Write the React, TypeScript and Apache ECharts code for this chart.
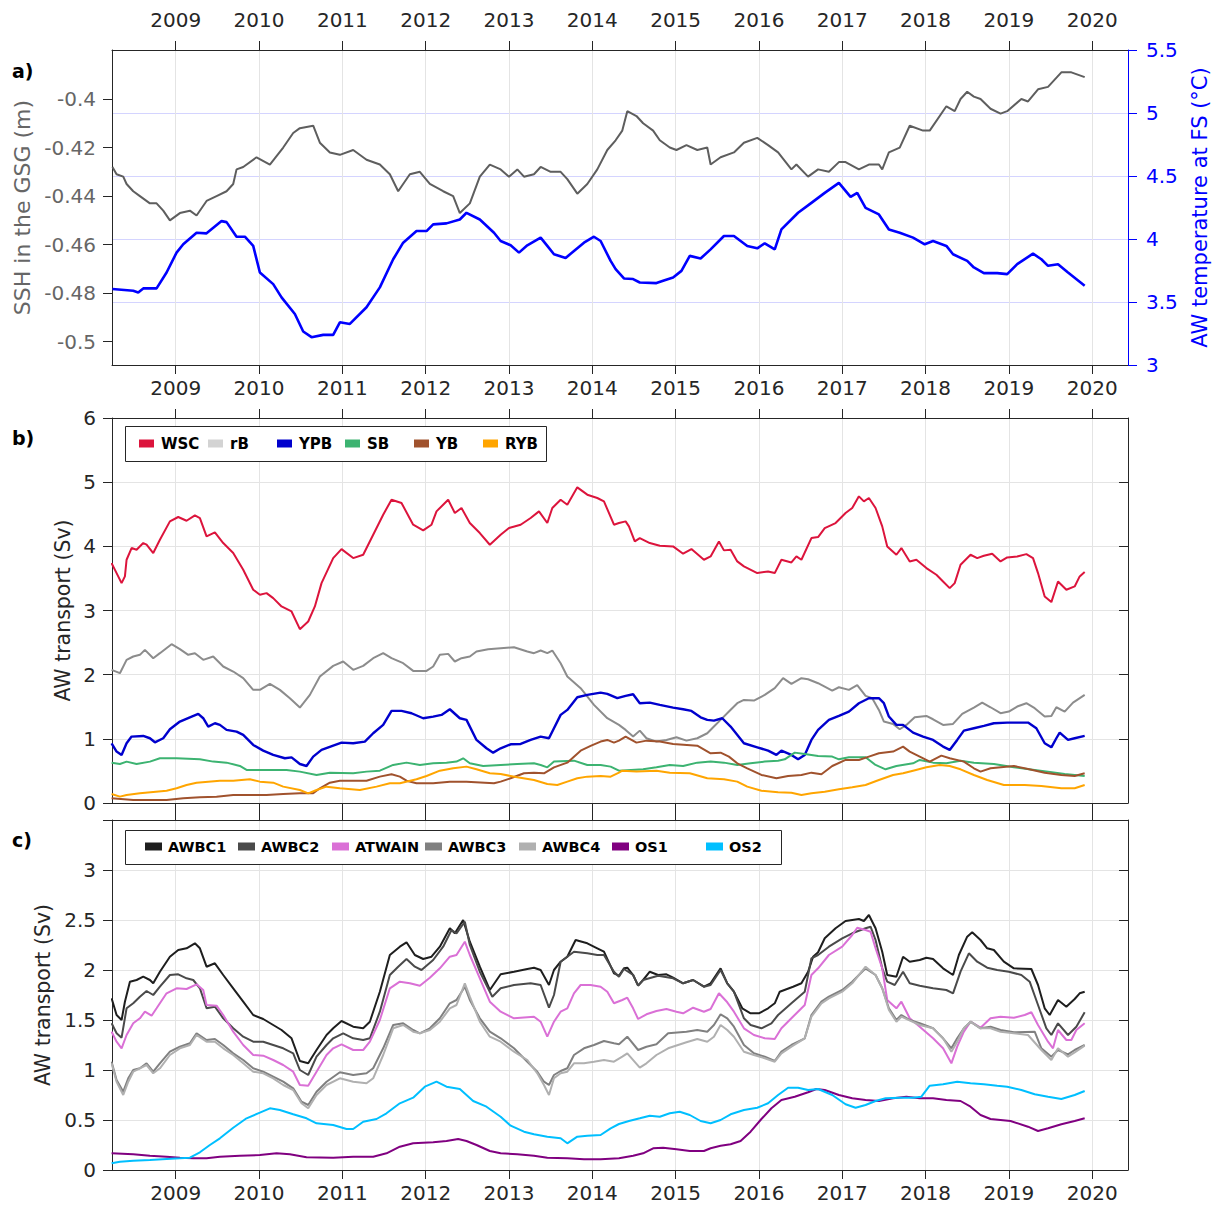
import React, { useEffect, useRef } from "react";
import * as echarts from "echarts";

const FONT = '"DejaVu Sans", sans-serif';
const AXIS = "#262626";
const GRID = "#e4e4e4";

const X_MIN = 2008.235;
const X_MAX = 2020.43;
const YEAR_TICKS = [2009, 2010, 2011, 2012, 2013, 2014, 2015, 2016, 2017, 2018, 2019, 2020];
const SSH_TICKS = [-0.5, -0.48, -0.46, -0.44, -0.42, -0.4];

// ---- panel a ----
const SSH: [number, number][] = [
  [2008.24, -0.428], [2008.29, -0.431], [2008.37, -0.432], [2008.41, -0.435], [2008.49, -0.438], [2008.57, -0.44],
  [2008.69, -0.443], [2008.77, -0.443], [2008.85, -0.446], [2008.93, -0.45], [2009.05, -0.447], [2009.17, -0.446],
  [2009.25, -0.448], [2009.37, -0.442], [2009.49, -0.44], [2009.61, -0.438], [2009.69, -0.435], [2009.73, -0.429],
  [2009.81, -0.428], [2009.97, -0.424], [2010.13, -0.427], [2010.29, -0.42], [2010.41, -0.414], [2010.49, -0.412],
  [2010.65, -0.411], [2010.73, -0.418], [2010.85, -0.422], [2010.97, -0.423], [2011.13, -0.421], [2011.29, -0.425],
  [2011.45, -0.427], [2011.57, -0.431], [2011.67, -0.438], [2011.81, -0.431], [2011.93, -0.43], [2012.05, -0.435],
  [2012.21, -0.438], [2012.33, -0.44], [2012.41, -0.447], [2012.53, -0.443], [2012.65, -0.432], [2012.77, -0.427],
  [2012.9, -0.429], [2013.0, -0.432], [2013.1, -0.429], [2013.18, -0.432], [2013.3, -0.431], [2013.38, -0.428],
  [2013.5, -0.43], [2013.62, -0.43], [2013.7, -0.433], [2013.82, -0.439], [2013.94, -0.435], [2014.06, -0.429],
  [2014.18, -0.421], [2014.28, -0.417], [2014.36, -0.413], [2014.42, -0.405], [2014.53, -0.407], [2014.61, -0.41],
  [2014.73, -0.413], [2014.81, -0.417], [2014.93, -0.42], [2015.01, -0.421], [2015.13, -0.419], [2015.26, -0.421],
  [2015.38, -0.42], [2015.42, -0.427], [2015.54, -0.424], [2015.7, -0.422], [2015.82, -0.418], [2015.98, -0.416],
  [2016.11, -0.419], [2016.23, -0.422], [2016.39, -0.429], [2016.45, -0.427], [2016.59, -0.432], [2016.71, -0.429],
  [2016.84, -0.43], [2016.96, -0.426], [2017.04, -0.426], [2017.2, -0.429], [2017.32, -0.427], [2017.44, -0.427],
  [2017.48, -0.429], [2017.56, -0.422], [2017.69, -0.42], [2017.81, -0.411], [2017.97, -0.413], [2018.05, -0.413],
  [2018.25, -0.403], [2018.35, -0.405], [2018.42, -0.4], [2018.5, -0.397], [2018.58, -0.399], [2018.66, -0.4],
  [2018.78, -0.404], [2018.9, -0.406], [2018.98, -0.405], [2019.15, -0.4], [2019.23, -0.401], [2019.35, -0.396],
  [2019.47, -0.395], [2019.63, -0.389], [2019.75, -0.389], [2019.91, -0.391],
];

const TEMP: [number, number][] = [
  [2008.24, 3.603], [2008.49, 3.589], [2008.55, 3.576], [2008.61, 3.608], [2008.77, 3.608], [2008.89, 3.734],
  [2009.01, 3.892], [2009.09, 3.958], [2009.25, 4.05], [2009.37, 4.045], [2009.55, 4.142], [2009.61, 4.134],
  [2009.73, 4.018], [2009.83, 4.018], [2009.93, 3.945], [2010.01, 3.734], [2010.17, 3.642], [2010.27, 3.537],
  [2010.43, 3.405], [2010.53, 3.266], [2010.63, 3.221], [2010.77, 3.239], [2010.89, 3.239], [2010.97, 3.339],
  [2011.09, 3.326], [2011.29, 3.458], [2011.45, 3.616], [2011.61, 3.839], [2011.73, 3.971], [2011.89, 4.063],
  [2012.01, 4.063], [2012.09, 4.116], [2012.25, 4.124], [2012.41, 4.155], [2012.49, 4.208], [2012.65, 4.155],
  [2012.82, 4.05], [2012.9, 3.984], [2013.02, 3.95], [2013.12, 3.892], [2013.22, 3.95], [2013.38, 4.011],
  [2013.46, 3.945], [2013.54, 3.879], [2013.68, 3.85], [2013.78, 3.905], [2013.9, 3.971], [2014.02, 4.018],
  [2014.1, 3.984], [2014.22, 3.826], [2014.28, 3.761], [2014.38, 3.687], [2014.49, 3.682], [2014.57, 3.655],
  [2014.77, 3.65], [2014.85, 3.668], [2014.97, 3.695], [2015.07, 3.747], [2015.17, 3.866], [2015.3, 3.845],
  [2015.42, 3.918], [2015.58, 4.024], [2015.7, 4.024], [2015.86, 3.945], [2015.98, 3.926], [2016.07, 3.966],
  [2016.19, 3.918], [2016.27, 4.076], [2016.47, 4.208], [2016.63, 4.287], [2016.79, 4.366], [2016.96, 4.445],
  [2017.1, 4.334], [2017.18, 4.366], [2017.28, 4.247], [2017.44, 4.195], [2017.56, 4.076], [2017.69, 4.05],
  [2017.85, 4.011], [2017.99, 3.958], [2018.09, 3.984], [2018.25, 3.945], [2018.33, 3.879], [2018.5, 3.826],
  [2018.58, 3.774], [2018.7, 3.729], [2018.86, 3.729], [2018.98, 3.721], [2019.1, 3.8], [2019.29, 3.884],
  [2019.39, 3.839], [2019.47, 3.787], [2019.59, 3.8], [2019.71, 3.734], [2019.91, 3.629],
];

// ---- panel b ----
const WSC: [number, number][] = [
  [2008.23, 3.739], [2008.29, 3.583], [2008.35, 3.427], [2008.39, 3.531], [2008.41, 3.791], [2008.47, 3.973],
  [2008.53, 3.947], [2008.61, 4.051], [2008.65, 4.025], [2008.73, 3.895], [2008.81, 4.103], [2008.93, 4.389],
  [2009.03, 4.457], [2009.13, 4.399], [2009.23, 4.483], [2009.29, 4.441], [2009.37, 4.155], [2009.47, 4.217],
  [2009.57, 4.051], [2009.69, 3.895], [2009.81, 3.635], [2009.93, 3.323], [2010.01, 3.245], [2010.09, 3.271],
  [2010.17, 3.193], [2010.27, 3.063], [2010.39, 2.985], [2010.49, 2.709], [2010.59, 2.829], [2010.67, 3.063],
  [2010.75, 3.427], [2010.89, 3.817], [2010.99, 3.957], [2011.13, 3.817], [2011.25, 3.869], [2011.37, 4.181],
  [2011.49, 4.493], [2011.59, 4.727], [2011.71, 4.675], [2011.85, 4.337], [2011.97, 4.249], [2012.07, 4.337],
  [2012.13, 4.545], [2012.27, 4.727], [2012.35, 4.519], [2012.43, 4.597], [2012.53, 4.363], [2012.65, 4.207],
  [2012.77, 4.025], [2012.9, 4.181], [2013.0, 4.285], [2013.14, 4.337], [2013.26, 4.441], [2013.36, 4.545],
  [2013.46, 4.363], [2013.52, 4.597], [2013.62, 4.727], [2013.7, 4.649], [2013.82, 4.919], [2013.94, 4.805],
  [2014.06, 4.753], [2014.14, 4.701], [2014.26, 4.337], [2014.32, 4.363], [2014.4, 4.389], [2014.44, 4.311],
  [2014.51, 4.077], [2014.57, 4.129], [2014.69, 4.051], [2014.81, 4.009], [2014.97, 3.999], [2015.09, 3.885],
  [2015.19, 3.957], [2015.34, 3.791], [2015.42, 3.843], [2015.52, 4.077], [2015.58, 3.937], [2015.66, 3.947],
  [2015.74, 3.765], [2015.82, 3.687], [2015.98, 3.583], [2016.11, 3.609], [2016.19, 3.583], [2016.27, 3.791],
  [2016.39, 3.749], [2016.45, 3.843], [2016.51, 3.791], [2016.63, 4.129], [2016.71, 4.145], [2016.79, 4.285],
  [2016.92, 4.363], [2017.04, 4.519], [2017.12, 4.597], [2017.2, 4.779], [2017.26, 4.701], [2017.32, 4.753],
  [2017.4, 4.597], [2017.48, 4.311], [2017.54, 3.999], [2017.65, 3.869], [2017.71, 3.973], [2017.81, 3.765],
  [2017.89, 3.791], [2018.01, 3.661], [2018.13, 3.557], [2018.21, 3.453], [2018.29, 3.349], [2018.35, 3.427],
  [2018.42, 3.713], [2018.54, 3.869], [2018.62, 3.817], [2018.7, 3.853], [2018.8, 3.885], [2018.9, 3.765],
  [2018.98, 3.827], [2019.1, 3.843], [2019.21, 3.879], [2019.29, 3.817], [2019.35, 3.583], [2019.43, 3.219],
  [2019.51, 3.131], [2019.59, 3.453], [2019.69, 3.323], [2019.79, 3.375], [2019.85, 3.531], [2019.91, 3.599],
];

const RB: [number, number][] = [
  [2008.23, 2.075], [2008.33, 2.023], [2008.41, 2.231], [2008.49, 2.283], [2008.57, 2.309], [2008.63, 2.387],
  [2008.73, 2.257], [2008.81, 2.335], [2008.95, 2.475], [2009.05, 2.397], [2009.15, 2.309], [2009.23, 2.335],
  [2009.33, 2.231], [2009.45, 2.283], [2009.57, 2.127], [2009.69, 2.049], [2009.81, 1.945], [2009.93, 1.763],
  [2010.01, 1.763], [2010.13, 1.856], [2010.25, 1.763], [2010.37, 1.633], [2010.49, 1.487], [2010.61, 1.685],
  [2010.73, 1.971], [2010.89, 2.137], [2011.01, 2.205], [2011.13, 2.075], [2011.25, 2.137], [2011.37, 2.257],
  [2011.49, 2.335], [2011.59, 2.257], [2011.73, 2.179], [2011.85, 2.059], [2012.01, 2.059], [2012.09, 2.127],
  [2012.17, 2.309], [2012.27, 2.324], [2012.35, 2.205], [2012.43, 2.257], [2012.53, 2.283], [2012.61, 2.361],
  [2012.75, 2.397], [2012.9, 2.413], [2013.06, 2.428], [2013.22, 2.361], [2013.3, 2.335], [2013.38, 2.376],
  [2013.46, 2.335], [2013.52, 2.376], [2013.62, 2.179], [2013.7, 1.971], [2013.86, 1.789], [2014.02, 1.529],
  [2014.18, 1.321], [2014.32, 1.217], [2014.4, 1.139], [2014.49, 1.035], [2014.57, 1.128], [2014.65, 1.009],
  [2014.77, 0.957], [2014.89, 0.983], [2015.01, 1.024], [2015.13, 0.972], [2015.26, 1.009], [2015.38, 1.087],
  [2015.46, 1.191], [2015.54, 1.295], [2015.64, 1.425], [2015.74, 1.555], [2015.82, 1.607], [2015.94, 1.596],
  [2016.07, 1.685], [2016.19, 1.789], [2016.29, 1.945], [2016.39, 1.856], [2016.51, 1.945], [2016.59, 1.929],
  [2016.71, 1.867], [2016.88, 1.752], [2016.96, 1.804], [2017.08, 1.763], [2017.18, 1.836], [2017.28, 1.669],
  [2017.36, 1.633], [2017.44, 1.451], [2017.5, 1.269], [2017.61, 1.232], [2017.69, 1.149], [2017.77, 1.217],
  [2017.87, 1.336], [2018.01, 1.357], [2018.09, 1.305], [2018.21, 1.217], [2018.33, 1.232], [2018.44, 1.388],
  [2018.58, 1.487], [2018.68, 1.565], [2018.78, 1.492], [2018.9, 1.399], [2019.0, 1.425], [2019.1, 1.503],
  [2019.21, 1.555], [2019.31, 1.477], [2019.43, 1.347], [2019.51, 1.357], [2019.57, 1.492], [2019.67, 1.425],
  [2019.77, 1.565], [2019.91, 1.685],
];

const YPB: [number, number][] = [
  [2008.23, 0.931], [2008.29, 0.801], [2008.35, 0.749], [2008.41, 0.931], [2008.47, 1.035], [2008.61, 1.045],
  [2008.69, 1.009], [2008.75, 0.946], [2008.85, 1.009], [2008.93, 1.149], [2009.05, 1.269], [2009.17, 1.336],
  [2009.27, 1.388], [2009.33, 1.321], [2009.39, 1.191], [2009.47, 1.243], [2009.53, 1.217], [2009.61, 1.139],
  [2009.73, 1.113], [2009.81, 1.061], [2009.93, 0.905], [2010.05, 0.816], [2010.17, 0.749], [2010.31, 0.697],
  [2010.39, 0.712], [2010.49, 0.608], [2010.57, 0.577], [2010.65, 0.723], [2010.75, 0.827], [2010.89, 0.894],
  [2010.99, 0.941], [2011.13, 0.931], [2011.27, 0.957], [2011.37, 1.087], [2011.49, 1.217], [2011.59, 1.435],
  [2011.71, 1.435], [2011.83, 1.399], [2011.97, 1.321], [2012.09, 1.347], [2012.19, 1.373], [2012.29, 1.461],
  [2012.41, 1.321], [2012.49, 1.295], [2012.61, 0.983], [2012.73, 0.853], [2012.81, 0.785], [2012.9, 0.853],
  [2013.02, 0.915], [2013.14, 0.92], [2013.26, 0.983], [2013.38, 1.035], [2013.48, 1.009], [2013.62, 1.373],
  [2013.7, 1.451], [2013.82, 1.648], [2013.94, 1.685], [2014.1, 1.721], [2014.18, 1.7], [2014.3, 1.633],
  [2014.4, 1.669], [2014.49, 1.695], [2014.57, 1.555], [2014.69, 1.565], [2014.81, 1.529], [2014.97, 1.487],
  [2015.09, 1.461], [2015.19, 1.435], [2015.3, 1.336], [2015.38, 1.295], [2015.46, 1.284], [2015.56, 1.321],
  [2015.66, 1.191], [2015.82, 0.931], [2015.98, 0.868], [2016.11, 0.816], [2016.21, 0.749], [2016.27, 0.816],
  [2016.39, 0.749], [2016.47, 0.681], [2016.55, 0.749], [2016.63, 0.983], [2016.71, 1.139], [2016.84, 1.295],
  [2016.96, 1.357], [2017.08, 1.425], [2017.2, 1.555], [2017.32, 1.633], [2017.44, 1.633], [2017.5, 1.555],
  [2017.56, 1.347], [2017.65, 1.217], [2017.73, 1.217], [2017.85, 1.097], [2017.97, 1.035], [2018.09, 0.983],
  [2018.21, 0.879], [2018.29, 0.827], [2018.38, 0.983], [2018.46, 1.128], [2018.58, 1.165], [2018.7, 1.201],
  [2018.82, 1.243], [2018.98, 1.253], [2019.23, 1.253], [2019.33, 1.165], [2019.43, 0.931], [2019.51, 0.868],
  [2019.57, 1.009], [2019.61, 1.097], [2019.71, 0.983], [2019.79, 1.009], [2019.91, 1.045],
];

const SB: [number, number][] = [
  [2008.23, 0.629], [2008.33, 0.608], [2008.41, 0.645], [2008.53, 0.608], [2008.69, 0.645], [2008.81, 0.697],
  [2009.01, 0.697], [2009.29, 0.681], [2009.45, 0.645], [2009.61, 0.629], [2009.77, 0.577], [2009.85, 0.515],
  [2010.09, 0.515], [2010.33, 0.515], [2010.49, 0.489], [2010.69, 0.437], [2010.85, 0.473], [2011.13, 0.463],
  [2011.29, 0.489], [2011.45, 0.504], [2011.61, 0.593], [2011.77, 0.629], [2011.93, 0.593], [2012.09, 0.619],
  [2012.25, 0.629], [2012.37, 0.645], [2012.45, 0.697], [2012.53, 0.619], [2012.69, 0.577], [2012.9, 0.593],
  [2013.1, 0.608], [2013.3, 0.619], [2013.38, 0.593], [2013.46, 0.556], [2013.54, 0.645], [2013.78, 0.66],
  [2013.94, 0.593], [2014.1, 0.593], [2014.22, 0.567], [2014.32, 0.504], [2014.61, 0.525], [2014.77, 0.556],
  [2014.93, 0.593], [2015.09, 0.577], [2015.26, 0.629], [2015.42, 0.645], [2015.58, 0.629], [2015.74, 0.593],
  [2015.9, 0.619], [2016.07, 0.645], [2016.23, 0.66], [2016.31, 0.681], [2016.43, 0.785], [2016.55, 0.764],
  [2016.71, 0.733], [2016.88, 0.723], [2016.96, 0.681], [2017.08, 0.712], [2017.28, 0.712], [2017.4, 0.593],
  [2017.52, 0.525], [2017.65, 0.577], [2017.85, 0.619], [2017.93, 0.671], [2018.09, 0.629], [2018.25, 0.619],
  [2018.42, 0.66], [2018.58, 0.629], [2018.82, 0.608], [2019.06, 0.556], [2019.31, 0.515], [2019.47, 0.489],
  [2019.67, 0.452], [2019.91, 0.421],
];

const YB: [number, number][] = [
  [2008.23, 0.073], [2008.49, 0.047], [2008.89, 0.047], [2009.09, 0.073], [2009.29, 0.088], [2009.49, 0.099],
  [2009.69, 0.125], [2010.09, 0.125], [2010.29, 0.14], [2010.49, 0.151], [2010.65, 0.151], [2010.73, 0.229],
  [2010.85, 0.317], [2010.97, 0.348], [2011.29, 0.348], [2011.45, 0.411], [2011.59, 0.447], [2011.69, 0.411],
  [2011.77, 0.348], [2011.89, 0.307], [2012.09, 0.307], [2012.29, 0.333], [2012.49, 0.333], [2012.82, 0.307],
  [2012.9, 0.333], [2013.02, 0.385], [2013.18, 0.463], [2013.3, 0.473], [2013.42, 0.463], [2013.54, 0.556],
  [2013.7, 0.629], [2013.86, 0.816], [2013.98, 0.889], [2014.1, 0.957], [2014.18, 0.983], [2014.26, 0.941],
  [2014.32, 0.972], [2014.4, 1.035], [2014.53, 0.941], [2014.65, 0.972], [2014.81, 0.957], [2014.97, 0.92],
  [2015.26, 0.894], [2015.42, 0.775], [2015.54, 0.785], [2015.64, 0.723], [2015.74, 0.619], [2015.86, 0.541],
  [2016.03, 0.437], [2016.21, 0.385], [2016.35, 0.421], [2016.51, 0.437], [2016.63, 0.473], [2016.75, 0.447],
  [2016.88, 0.577], [2017.04, 0.671], [2017.2, 0.671], [2017.32, 0.723], [2017.44, 0.775], [2017.61, 0.801],
  [2017.73, 0.879], [2017.81, 0.801], [2017.93, 0.723], [2018.05, 0.645], [2018.19, 0.738], [2018.29, 0.697],
  [2018.46, 0.645], [2018.58, 0.541], [2018.66, 0.489], [2018.78, 0.541], [2019.06, 0.577], [2019.23, 0.53],
  [2019.43, 0.473], [2019.63, 0.437], [2019.79, 0.421], [2019.91, 0.463],
];

const RYB: [number, number][] = [
  [2008.23, 0.14], [2008.33, 0.099], [2008.41, 0.125], [2008.57, 0.151], [2008.89, 0.192], [2009.01, 0.229],
  [2009.13, 0.281], [2009.25, 0.317], [2009.53, 0.348], [2009.69, 0.348], [2009.89, 0.369], [2010.01, 0.333],
  [2010.17, 0.317], [2010.29, 0.255], [2010.49, 0.203], [2010.59, 0.151], [2010.69, 0.203], [2010.81, 0.255],
  [2010.97, 0.229], [2011.21, 0.203], [2011.41, 0.255], [2011.57, 0.307], [2011.69, 0.307], [2011.89, 0.369],
  [2012.01, 0.421], [2012.17, 0.504], [2012.33, 0.541], [2012.49, 0.567], [2012.61, 0.525], [2012.77, 0.463],
  [2012.9, 0.452], [2013.1, 0.4], [2013.3, 0.359], [2013.46, 0.296], [2013.58, 0.281], [2013.7, 0.333],
  [2013.82, 0.385], [2013.94, 0.411], [2014.1, 0.421], [2014.22, 0.411], [2014.32, 0.473], [2014.36, 0.504],
  [2014.53, 0.489], [2014.77, 0.504], [2014.93, 0.473], [2015.17, 0.463], [2015.38, 0.385], [2015.58, 0.369],
  [2015.74, 0.333], [2015.86, 0.255], [2016.03, 0.192], [2016.23, 0.166], [2016.39, 0.161], [2016.51, 0.125],
  [2016.63, 0.151], [2016.79, 0.177], [2016.96, 0.213], [2017.12, 0.244], [2017.28, 0.281], [2017.44, 0.359],
  [2017.61, 0.437], [2017.73, 0.463], [2017.85, 0.504], [2018.01, 0.556], [2018.17, 0.593], [2018.29, 0.577],
  [2018.42, 0.525], [2018.58, 0.437], [2018.74, 0.359], [2018.94, 0.281], [2019.19, 0.281], [2019.39, 0.265],
  [2019.63, 0.229], [2019.79, 0.229], [2019.91, 0.281],
];

// ---- panel c ----
const AWBC1: [number, number][] = [
  [2008.23, 1.717], [2008.29, 1.55], [2008.35, 1.5], [2008.39, 1.683], [2008.45, 1.883], [2008.53, 1.9],
  [2008.61, 1.933], [2008.69, 1.9], [2008.73, 1.867], [2008.81, 1.983], [2008.93, 2.133], [2009.03, 2.2],
  [2009.13, 2.217], [2009.23, 2.267], [2009.29, 2.217], [2009.37, 2.033], [2009.47, 2.067], [2009.57, 1.95],
  [2009.69, 1.817], [2009.81, 1.683], [2009.93, 1.55], [2010.05, 1.51], [2010.17, 1.45], [2010.27, 1.4],
  [2010.39, 1.317], [2010.49, 1.09], [2010.59, 1.067], [2010.69, 1.2], [2010.81, 1.35], [2010.89, 1.417],
  [2010.99, 1.49], [2011.13, 1.433], [2011.25, 1.417], [2011.33, 1.483], [2011.45, 1.783], [2011.57, 2.15],
  [2011.69, 2.233], [2011.77, 2.277], [2011.87, 2.15], [2011.97, 2.11], [2012.07, 2.133], [2012.17, 2.233],
  [2012.29, 2.417], [2012.35, 2.367], [2012.45, 2.5], [2012.53, 2.283], [2012.65, 2.033], [2012.77, 1.8],
  [2012.9, 1.957], [2013.06, 1.983], [2013.22, 2.01], [2013.3, 2.023], [2013.38, 2.0], [2013.48, 1.85],
  [2013.54, 2.0], [2013.62, 2.083], [2013.7, 2.133], [2013.8, 2.3], [2013.94, 2.267], [2014.06, 2.217],
  [2014.14, 2.183], [2014.26, 1.967], [2014.32, 1.943], [2014.38, 2.017], [2014.42, 2.023], [2014.49, 1.95],
  [2014.55, 1.843], [2014.61, 1.9], [2014.69, 1.983], [2014.79, 1.95], [2014.89, 1.957], [2014.97, 1.923],
  [2015.09, 1.867], [2015.21, 1.9], [2015.34, 1.833], [2015.42, 1.867], [2015.54, 2.017], [2015.62, 1.867],
  [2015.7, 1.783], [2015.8, 1.617], [2015.9, 1.567], [2016.0, 1.567], [2016.11, 1.617], [2016.19, 1.667],
  [2016.25, 1.783], [2016.41, 1.833], [2016.51, 1.867], [2016.59, 1.983], [2016.65, 2.133], [2016.71, 2.177],
  [2016.79, 2.317], [2016.92, 2.417], [2017.04, 2.49], [2017.2, 2.51], [2017.26, 2.49], [2017.32, 2.55],
  [2017.4, 2.417], [2017.48, 2.183], [2017.54, 1.95], [2017.65, 1.933], [2017.73, 2.133], [2017.81, 2.083],
  [2017.93, 2.1], [2018.01, 2.123], [2018.09, 2.11], [2018.21, 2.017], [2018.33, 1.95], [2018.4, 2.15],
  [2018.5, 2.333], [2018.56, 2.377], [2018.66, 2.3], [2018.74, 2.217], [2018.82, 2.2], [2018.94, 2.083],
  [2019.06, 2.017], [2019.27, 2.01], [2019.35, 1.85], [2019.43, 1.617], [2019.49, 1.55], [2019.59, 1.7],
  [2019.69, 1.633], [2019.79, 1.71], [2019.85, 1.767], [2019.91, 1.783],
];

const AWBC2: [number, number][] = [
  [2008.23, 1.467], [2008.29, 1.367], [2008.35, 1.323], [2008.41, 1.617], [2008.49, 1.667], [2008.57, 1.733],
  [2008.65, 1.79], [2008.73, 1.75], [2008.81, 1.833], [2008.93, 1.95], [2009.03, 1.957], [2009.13, 1.917],
  [2009.21, 1.9], [2009.29, 1.817], [2009.37, 1.617], [2009.47, 1.633], [2009.57, 1.517], [2009.69, 1.417],
  [2009.81, 1.333], [2009.93, 1.283], [2010.05, 1.283], [2010.17, 1.25], [2010.29, 1.217], [2010.41, 1.167],
  [2010.49, 1.0], [2010.59, 0.95], [2010.69, 1.133], [2010.81, 1.25], [2010.89, 1.317], [2011.01, 1.367],
  [2011.13, 1.317], [2011.25, 1.3], [2011.33, 1.317], [2011.45, 1.583], [2011.57, 1.95], [2011.67, 2.033],
  [2011.77, 2.11], [2011.87, 2.033], [2011.95, 2.0], [2012.09, 2.1], [2012.21, 2.233], [2012.31, 2.4],
  [2012.37, 2.367], [2012.47, 2.483], [2012.53, 2.25], [2012.65, 1.983], [2012.8, 1.733], [2012.9, 1.817],
  [2013.06, 1.85], [2013.26, 1.867], [2013.38, 1.85], [2013.48, 1.623], [2013.54, 1.75], [2013.62, 2.083],
  [2013.78, 2.183], [2013.94, 2.167], [2014.06, 2.15], [2014.14, 2.15], [2014.26, 1.983], [2014.32, 1.933],
  [2014.38, 2.01], [2014.49, 1.95], [2014.55, 1.843], [2014.61, 1.9], [2014.79, 1.943], [2014.97, 1.917],
  [2015.09, 1.867], [2015.21, 1.9], [2015.34, 1.833], [2015.42, 1.85], [2015.54, 2.0], [2015.62, 1.867],
  [2015.7, 1.783], [2015.82, 1.517], [2015.9, 1.45], [2016.03, 1.417], [2016.15, 1.467], [2016.23, 1.55],
  [2016.39, 1.667], [2016.55, 1.783], [2016.63, 2.117], [2016.71, 2.15], [2016.84, 2.233], [2017.0, 2.317],
  [2017.12, 2.367], [2017.28, 2.417], [2017.34, 2.433], [2017.4, 2.3], [2017.48, 2.017], [2017.54, 1.883],
  [2017.63, 1.85], [2017.73, 1.983], [2017.81, 1.867], [2017.93, 1.843], [2018.09, 1.817], [2018.25, 1.8],
  [2018.33, 1.767], [2018.42, 1.983], [2018.52, 2.167], [2018.62, 2.083], [2018.74, 2.023], [2018.86, 2.0],
  [2019.0, 1.983], [2019.15, 1.95], [2019.25, 1.883], [2019.35, 1.65], [2019.45, 1.417], [2019.51, 1.35],
  [2019.59, 1.467], [2019.71, 1.35], [2019.81, 1.433], [2019.91, 1.577],
];

const ATWAIN: [number, number][] = [
  [2008.23, 1.383], [2008.29, 1.283], [2008.35, 1.217], [2008.41, 1.35], [2008.49, 1.467], [2008.57, 1.517],
  [2008.63, 1.583], [2008.71, 1.543], [2008.77, 1.617], [2008.89, 1.767], [2009.01, 1.817], [2009.13, 1.81],
  [2009.25, 1.857], [2009.33, 1.8], [2009.37, 1.65], [2009.49, 1.643], [2009.57, 1.55], [2009.69, 1.383],
  [2009.81, 1.25], [2009.93, 1.15], [2010.05, 1.143], [2010.17, 1.1], [2010.29, 1.05], [2010.41, 0.983],
  [2010.49, 0.85], [2010.59, 0.843], [2010.69, 0.983], [2010.81, 1.15], [2010.89, 1.217], [2010.99, 1.257],
  [2011.13, 1.2], [2011.25, 1.2], [2011.33, 1.283], [2011.45, 1.5], [2011.57, 1.817], [2011.69, 1.883],
  [2011.81, 1.867], [2011.93, 1.843], [2012.05, 1.923], [2012.17, 2.017], [2012.29, 2.133], [2012.37, 2.15],
  [2012.47, 2.283], [2012.53, 2.15], [2012.65, 1.917], [2012.77, 1.683], [2012.9, 1.583], [2013.06, 1.517],
  [2013.3, 1.533], [2013.38, 1.483], [2013.46, 1.333], [2013.54, 1.483], [2013.62, 1.583], [2013.7, 1.617],
  [2013.78, 1.767], [2013.86, 1.85], [2013.98, 1.85], [2014.1, 1.833], [2014.18, 1.783], [2014.26, 1.667],
  [2014.36, 1.7], [2014.42, 1.723], [2014.49, 1.617], [2014.55, 1.51], [2014.65, 1.557], [2014.77, 1.59],
  [2014.89, 1.61], [2015.01, 1.583], [2015.09, 1.567], [2015.21, 1.623], [2015.34, 1.583], [2015.42, 1.61],
  [2015.52, 1.767], [2015.62, 1.677], [2015.7, 1.583], [2015.82, 1.417], [2015.94, 1.35], [2016.07, 1.317],
  [2016.19, 1.31], [2016.27, 1.417], [2016.39, 1.517], [2016.55, 1.65], [2016.63, 1.95], [2016.71, 2.017],
  [2016.84, 2.15], [2017.0, 2.233], [2017.12, 2.35], [2017.18, 2.423], [2017.28, 2.4], [2017.34, 2.383],
  [2017.4, 2.217], [2017.48, 2.017], [2017.54, 1.7], [2017.65, 1.617], [2017.71, 1.683], [2017.81, 1.517],
  [2017.93, 1.433], [2018.09, 1.317], [2018.21, 1.217], [2018.31, 1.067], [2018.38, 1.233], [2018.46, 1.383],
  [2018.54, 1.483], [2018.66, 1.423], [2018.78, 1.517], [2018.9, 1.533], [2019.06, 1.523], [2019.19, 1.55],
  [2019.27, 1.577], [2019.35, 1.45], [2019.47, 1.283], [2019.53, 1.217], [2019.59, 1.4], [2019.69, 1.3],
  [2019.75, 1.3], [2019.81, 1.4], [2019.91, 1.467],
];

const AWBC3: [number, number][] = [
  [2008.23, 1.083], [2008.29, 0.9], [2008.37, 0.783], [2008.43, 0.917], [2008.49, 1.0], [2008.57, 1.017],
  [2008.65, 1.067], [2008.73, 0.983], [2008.81, 1.067], [2008.93, 1.183], [2009.05, 1.233], [2009.17, 1.267],
  [2009.25, 1.367], [2009.37, 1.3], [2009.47, 1.31], [2009.57, 1.25], [2009.69, 1.167], [2009.81, 1.1],
  [2009.93, 1.017], [2010.05, 0.983], [2010.17, 0.933], [2010.29, 0.883], [2010.41, 0.817], [2010.51, 0.683],
  [2010.59, 0.65], [2010.69, 0.783], [2010.81, 0.883], [2010.97, 0.977], [2011.13, 0.95], [2011.29, 0.967],
  [2011.37, 1.017], [2011.49, 1.217], [2011.61, 1.45], [2011.73, 1.467], [2011.85, 1.4], [2011.93, 1.367],
  [2012.05, 1.417], [2012.17, 1.517], [2012.29, 1.667], [2012.37, 1.7], [2012.47, 1.833], [2012.53, 1.7],
  [2012.65, 1.517], [2012.77, 1.383], [2012.9, 1.317], [2013.06, 1.217], [2013.22, 1.083], [2013.34, 0.983],
  [2013.42, 0.883], [2013.48, 0.85], [2013.54, 0.95], [2013.62, 0.99], [2013.7, 1.017], [2013.78, 1.15],
  [2013.9, 1.217], [2014.02, 1.25], [2014.14, 1.29], [2014.26, 1.267], [2014.32, 1.257], [2014.42, 1.333],
  [2014.55, 1.2], [2014.65, 1.233], [2014.77, 1.257], [2014.91, 1.367], [2015.13, 1.383], [2015.26, 1.4],
  [2015.38, 1.383], [2015.46, 1.45], [2015.54, 1.557], [2015.62, 1.517], [2015.7, 1.433], [2015.82, 1.25],
  [2015.94, 1.167], [2016.07, 1.133], [2016.19, 1.09], [2016.27, 1.183], [2016.39, 1.25], [2016.55, 1.317],
  [2016.63, 1.55], [2016.75, 1.683], [2016.84, 1.733], [2017.0, 1.8], [2017.12, 1.883], [2017.28, 2.017],
  [2017.4, 1.95], [2017.48, 1.817], [2017.56, 1.617], [2017.65, 1.5], [2017.71, 1.55], [2017.81, 1.5],
  [2017.93, 1.467], [2018.09, 1.417], [2018.21, 1.317], [2018.31, 1.217], [2018.38, 1.317], [2018.46, 1.417],
  [2018.54, 1.483], [2018.66, 1.417], [2018.78, 1.433], [2018.9, 1.4], [2019.06, 1.377], [2019.31, 1.383],
  [2019.39, 1.217], [2019.51, 1.133], [2019.59, 1.2], [2019.71, 1.157], [2019.79, 1.2], [2019.91, 1.25],
];

const AWBC4: [number, number][] = [
  [2008.23, 1.067], [2008.29, 0.883], [2008.37, 0.75], [2008.43, 0.883], [2008.49, 0.983], [2008.57, 1.017],
  [2008.65, 1.05], [2008.73, 0.967], [2008.81, 1.017], [2008.93, 1.15], [2009.05, 1.217], [2009.17, 1.25],
  [2009.25, 1.35], [2009.37, 1.283], [2009.47, 1.283], [2009.57, 1.217], [2009.69, 1.15], [2009.81, 1.067],
  [2009.93, 0.983], [2010.05, 0.967], [2010.17, 0.917], [2010.29, 0.85], [2010.41, 0.8], [2010.51, 0.667],
  [2010.59, 0.617], [2010.69, 0.75], [2010.81, 0.85], [2010.97, 0.917], [2011.13, 0.883], [2011.29, 0.867],
  [2011.37, 0.917], [2011.49, 1.15], [2011.61, 1.417], [2011.73, 1.45], [2011.85, 1.383], [2011.93, 1.367],
  [2012.05, 1.4], [2012.17, 1.483], [2012.29, 1.617], [2012.37, 1.65], [2012.47, 1.867], [2012.53, 1.733],
  [2012.65, 1.483], [2012.77, 1.333], [2012.9, 1.283], [2013.06, 1.183], [2013.22, 1.1], [2013.34, 0.967],
  [2013.42, 0.85], [2013.48, 0.75], [2013.54, 0.917], [2013.62, 0.967], [2013.7, 0.983], [2013.78, 1.067],
  [2013.9, 1.067], [2014.02, 1.083], [2014.14, 1.1], [2014.26, 1.083], [2014.36, 1.133], [2014.42, 1.167],
  [2014.57, 1.023], [2014.65, 1.067], [2014.77, 1.15], [2014.91, 1.217], [2015.13, 1.277], [2015.26, 1.31],
  [2015.38, 1.283], [2015.46, 1.333], [2015.54, 1.45], [2015.62, 1.4], [2015.7, 1.333], [2015.82, 1.183],
  [2015.94, 1.15], [2016.07, 1.117], [2016.19, 1.083], [2016.27, 1.167], [2016.39, 1.233], [2016.55, 1.317],
  [2016.63, 1.533], [2016.75, 1.667], [2016.84, 1.717], [2017.0, 1.783], [2017.12, 1.867], [2017.28, 2.033],
  [2017.4, 1.95], [2017.48, 1.817], [2017.56, 1.6], [2017.65, 1.483], [2017.71, 1.533], [2017.93, 1.45],
  [2018.09, 1.417], [2018.21, 1.317], [2018.31, 1.183], [2018.38, 1.283], [2018.46, 1.417], [2018.54, 1.483],
  [2018.66, 1.417], [2018.78, 1.417], [2018.9, 1.383], [2019.23, 1.35], [2019.39, 1.2], [2019.51, 1.1],
  [2019.59, 1.217], [2019.71, 1.133], [2019.79, 1.177], [2019.91, 1.243],
];

const OS1: [number, number][] = [
  [2008.23, 0.167], [2008.49, 0.157], [2008.69, 0.143], [2008.89, 0.133], [2009.05, 0.123], [2009.21, 0.117],
  [2009.37, 0.117], [2009.53, 0.133], [2009.77, 0.143], [2010.01, 0.15], [2010.21, 0.167], [2010.37, 0.157],
  [2010.57, 0.127], [2010.89, 0.123], [2011.13, 0.133], [2011.37, 0.133], [2011.53, 0.167], [2011.69, 0.233],
  [2011.85, 0.267], [2012.09, 0.277], [2012.25, 0.29], [2012.39, 0.31], [2012.49, 0.29], [2012.61, 0.25],
  [2012.77, 0.19], [2012.9, 0.167], [2013.1, 0.157], [2013.3, 0.143], [2013.46, 0.123], [2013.7, 0.117],
  [2013.9, 0.107], [2014.1, 0.107], [2014.32, 0.117], [2014.49, 0.143], [2014.61, 0.167], [2014.73, 0.217],
  [2014.85, 0.223], [2015.01, 0.207], [2015.17, 0.19], [2015.34, 0.19], [2015.42, 0.217], [2015.54, 0.243],
  [2015.66, 0.257], [2015.78, 0.29], [2015.9, 0.383], [2016.03, 0.51], [2016.15, 0.617], [2016.27, 0.7],
  [2016.43, 0.733], [2016.59, 0.777], [2016.69, 0.81], [2016.79, 0.8], [2016.96, 0.75], [2017.12, 0.717],
  [2017.28, 0.7], [2017.44, 0.69], [2017.61, 0.717], [2017.77, 0.733], [2017.93, 0.717], [2018.09, 0.717],
  [2018.25, 0.7], [2018.42, 0.69], [2018.54, 0.633], [2018.66, 0.55], [2018.78, 0.51], [2019.02, 0.49],
  [2019.23, 0.433], [2019.35, 0.39], [2019.47, 0.417], [2019.63, 0.457], [2019.79, 0.49], [2019.91, 0.517],
];

const OS2: [number, number][] = [
  [2008.23, 0.067], [2008.33, 0.083], [2008.49, 0.093], [2008.69, 0.1], [2008.89, 0.11], [2009.05, 0.117],
  [2009.17, 0.123], [2009.29, 0.177], [2009.41, 0.25], [2009.53, 0.317], [2009.69, 0.423], [2009.85, 0.517],
  [2010.01, 0.573], [2010.13, 0.617], [2010.25, 0.6], [2010.41, 0.557], [2010.57, 0.517], [2010.69, 0.467],
  [2010.89, 0.45], [2011.05, 0.41], [2011.13, 0.41], [2011.25, 0.483], [2011.41, 0.51], [2011.53, 0.567],
  [2011.69, 0.667], [2011.85, 0.723], [2011.99, 0.833], [2012.13, 0.883], [2012.25, 0.833], [2012.41, 0.81],
  [2012.49, 0.75], [2012.57, 0.69], [2012.73, 0.633], [2012.9, 0.533], [2013.02, 0.443], [2013.18, 0.383],
  [2013.3, 0.357], [2013.46, 0.333], [2013.62, 0.317], [2013.7, 0.267], [2013.82, 0.333], [2013.94, 0.343],
  [2014.1, 0.35], [2014.22, 0.417], [2014.32, 0.46], [2014.44, 0.49], [2014.57, 0.517], [2014.69, 0.543],
  [2014.81, 0.533], [2014.93, 0.567], [2015.05, 0.583], [2015.17, 0.55], [2015.3, 0.49], [2015.42, 0.467],
  [2015.54, 0.5], [2015.66, 0.557], [2015.82, 0.6], [2015.98, 0.623], [2016.11, 0.667], [2016.23, 0.75],
  [2016.35, 0.823], [2016.47, 0.823], [2016.59, 0.8], [2016.71, 0.81], [2016.88, 0.75], [2017.04, 0.657],
  [2017.16, 0.623], [2017.28, 0.65], [2017.4, 0.69], [2017.52, 0.717], [2017.69, 0.723], [2017.85, 0.723],
  [2017.95, 0.733], [2018.05, 0.843], [2018.21, 0.857], [2018.38, 0.883], [2018.54, 0.867], [2018.7, 0.857],
  [2018.86, 0.843], [2018.98, 0.833], [2019.15, 0.8], [2019.31, 0.757], [2019.47, 0.733], [2019.63, 0.71],
  [2019.79, 0.75], [2019.91, 0.79],
];

const B_NAMES = ["WSC", "rB", "YPB", "SB", "YB", "RYB"];
const B_LINE_COLORS = ["#dc143c", "#8c8c8c", "#0000cd", "#3cb371", "#a0522d", "#ffa500"];
const B_LEGEND_COLORS = ["#dc143c", "#d3d3d3", "#0000cd", "#3cb371", "#a0522d", "#ffa500"];
const B_DATA = [WSC, RB, YPB, SB, YB, RYB];
const B_LEGEND_X = [139, 208, 277, 345, 414, 483];

const C_NAMES = ["AWBC1", "AWBC2", "ATWAIN", "AWBC3", "AWBC4", "OS1", "OS2"];
const C_COLORS = ["#1e1e1e", "#4a4a4a", "#da70d6", "#808080", "#b0b0b0", "#800080", "#00bfff"];
const C_DATA = [AWBC1, AWBC2, ATWAIN, AWBC3, AWBC4, OS1, OS2];
const C_LEGEND_X = [145, 238, 332, 425, 519, 612, 706];

function xAxis(gridIndex: number, position: string, showLabel: boolean, split: boolean, margin: number) {
  return {
    type: "value",
    gridIndex,
    position,
    min: X_MIN,
    max: X_MAX,
    axisLine: { show: true, onZero: false, lineStyle: { color: AXIS, width: 1 } },
    axisTick: { show: true, inside: false, length: 9, customValues: YEAR_TICKS, lineStyle: { color: AXIS, width: 1 } },
    axisLabel: {
      show: showLabel,
      customValues: YEAR_TICKS,
      margin,
      fontSize: 20,
      fontFamily: FONT,
      color: "#262626",
      formatter: (v: number) => String(Math.round(v)),
    },
    splitLine: { show: split, lineStyle: { color: GRID, width: 1 } },
  };
}

export default function App() {
  const ref = useRef<HTMLDivElement>(null);

  useEffect(() => {
    if (!ref.current) return;
    const chart = echarts.init(ref.current, null, { renderer: "svg" });

    const grids = [
      { left: 112, top: 50, width: 1016, height: 315, containLabel: false, outerBoundsMode: "none" },
      { left: 112, top: 418, width: 1016, height: 385, containLabel: false, outerBoundsMode: "none" },
      { left: 112, top: 820, width: 1016, height: 350, containLabel: false, outerBoundsMode: "none" },
    ];

    const xAxes = [
      xAxis(0, "bottom", true, true, 13),
      xAxis(0, "top", true, false, 20),
      xAxis(1, "bottom", false, true, 13),
      xAxis(1, "top", false, false, 20),
      xAxis(2, "bottom", true, true, 13),
      xAxis(2, "top", false, false, 20),
    ];

    const labelBase = { fontSize: 20, fontFamily: FONT, color: "#262626", margin: 16 };
    const rightBox = (gridIndex: number, min: number, max: number, interval: number) => ({
      type: "value",
      gridIndex,
      position: "right",
      min,
      max,
      interval,
      axisLine: { show: true, lineStyle: { color: AXIS, width: 1 } },
      axisTick: { show: true, inside: true, length: 9, lineStyle: { color: AXIS } },
      axisLabel: { show: false },
      splitLine: { show: false },
    });

    const yAxes = [
      {
        type: "value",
        gridIndex: 0,
        position: "left",
        min: -0.5096,
        max: -0.3798,
        axisLine: { show: true, lineStyle: { color: AXIS, width: 1 } },
        axisTick: { show: true, inside: false, length: 9, customValues: SSH_TICKS, lineStyle: { color: AXIS } },
        axisLabel: {
          ...labelBase,
          color: "#666666",
          customValues: SSH_TICKS,
          formatter: (v: number) => String(Math.round(v * 100) / 100),
        },
        splitLine: { show: false },
        name: "SSH in the GSG (m)",
        nameLocation: "middle",
        nameRotate: 90,
        nameGap: 79,
        nameMoveOverlap: false,
        nameTextStyle: { fontSize: 22, fontFamily: FONT, color: "#666666" },
      },
      {
        type: "value",
        gridIndex: 0,
        position: "right",
        min: 3,
        max: 5.5,
        interval: 0.5,
        axisLine: { show: true, lineStyle: { color: "#0000ff", width: 1 } },
        axisTick: { show: true, inside: false, length: 9, lineStyle: { color: "#0000ff" } },
        axisLabel: { ...labelBase, color: "#0000ff", margin: 18 },
        splitLine: { show: true, lineStyle: { color: "rgba(0,0,255,0.17)", width: 1 } },
        name: "AW temperature at FS (°C)",
        nameLocation: "middle",
        nameRotate: 90,
        nameGap: 61,
        nameMoveOverlap: false,
        nameTextStyle: { fontSize: 21, fontFamily: FONT, color: "#0000ff" },
      },
      {
        type: "value",
        gridIndex: 1,
        position: "left",
        min: 0,
        max: 6,
        interval: 1,
        axisLine: { show: true, lineStyle: { color: AXIS, width: 1 } },
        axisTick: { show: true, inside: false, length: 9, lineStyle: { color: AXIS } },
        axisLabel: { ...labelBase },
        splitLine: { show: true, lineStyle: { color: GRID, width: 1 } },
        name: "AW transport (Sv)",
        nameLocation: "middle",
        nameRotate: 90,
        nameGap: 39,
        nameMoveOverlap: false,
        nameTextStyle: { fontSize: 20.5, fontFamily: FONT, color: "#262626" },
      },
      rightBox(1, 0, 6, 1),
      {
        type: "value",
        gridIndex: 2,
        position: "left",
        min: 0,
        max: 3.5,
        interval: 0.5,
        axisLine: { show: true, lineStyle: { color: AXIS, width: 1 } },
        axisTick: { show: true, inside: false, length: 9, lineStyle: { color: AXIS } },
        axisLabel: { ...labelBase, formatter: (v: number) => (v > 3.01 ? "" : String(v)) },
        splitLine: { show: true, lineStyle: { color: GRID, width: 1 } },
        name: "AW transport (Sv)",
        nameLocation: "middle",
        nameRotate: 90,
        nameGap: 59,
        nameMoveOverlap: false,
        nameTextStyle: { fontSize: 20.5, fontFamily: FONT, color: "#262626" },
      },
      rightBox(2, 0, 3.5, 0.5),
    ];

    const mkLine = (name: string, data: [number, number][], color: string, xi: number, yi: number, width = 2) => ({
      type: "line",
      name,
      data,
      xAxisIndex: xi,
      yAxisIndex: yi,
      showSymbol: false,
      symbol: "none",
      lineStyle: { color, width },
      itemStyle: { color },
      emphasis: { disabled: true },
      silent: true,
      z: 2,
    });

    const series: any[] = [
      mkLine("SSH", SSH, "#5e5e5e", 0, 0, 2),
      mkLine("Temperature", TEMP, "#0000ff", 0, 1, 2.6),
    ];
    B_NAMES.forEach((n, i) => series.push(mkLine(n, B_DATA[i], B_LINE_COLORS[i], 2, 2, i === 2 ? 2.4 : 2)));
    C_NAMES.forEach((n, i) => series.push(mkLine(n, C_DATA[i], C_COLORS[i], 4, 4, 2)));

    const legends: any[] = [];
    B_NAMES.forEach((n, i) =>
      legends.push({
        data: [{ name: n, itemStyle: { color: B_LEGEND_COLORS[i] } }],
        left: B_LEGEND_X[i],
        top: 435.5,
        padding: 0,
        icon: "rect",
        itemWidth: 15,
        itemHeight: 8,
        selectedMode: false,
        textStyle: { fontSize: 15, fontWeight: "bold", fontFamily: FONT, color: "#000", lineHeight: 16, padding: [0, 0, 0, 2] },
      })
    );
    C_NAMES.forEach((n, i) =>
      legends.push({
        data: [{ name: n, itemStyle: { color: C_COLORS[i] } }],
        left: C_LEGEND_X[i],
        top: 838.5,
        padding: 0,
        icon: "rect",
        itemWidth: 17,
        itemHeight: 8,
        selectedMode: false,
        textStyle: { fontSize: 14.5, fontWeight: "bold", fontFamily: FONT, color: "#000", lineHeight: 16, padding: [0, 0, 0, 1] },
      })
    );

    const panelLabel = (text: string, y: number) => ({
      type: "text",
      x: 12,
      y,
      style: { text, fontSize: 19, fontWeight: "bold", fontFamily: FONT, fill: "#000", verticalAlign: "middle" },
    });

    chart.setOption({
      animation: false,
      backgroundColor: "#ffffff",
      grid: grids,
      xAxis: xAxes,
      yAxis: yAxes,
      series,
      legend: legends,
      graphic: [
        {
          type: "rect",
          z: 3,
          shape: { x: 125.5, y: 426.5, width: 421, height: 35 },
          style: { fill: "#ffffff", stroke: "#262626", lineWidth: 1 },
        },
        {
          type: "rect",
          z: 3,
          shape: { x: 125.5, y: 830.5, width: 656, height: 34 },
          style: { fill: "#ffffff", stroke: "#262626", lineWidth: 1 },
        },
        panelLabel("a)", 71),
        panelLabel("b)", 438),
        panelLabel("c)", 840),
      ],
    });

    return () => chart.dispose();
  }, []);

  return (
    <div
      ref={ref}
      style={{ position: "fixed", left: 0, top: 0, width: 1222, height: 1214, background: "#fff" }}
    />
  );
}
